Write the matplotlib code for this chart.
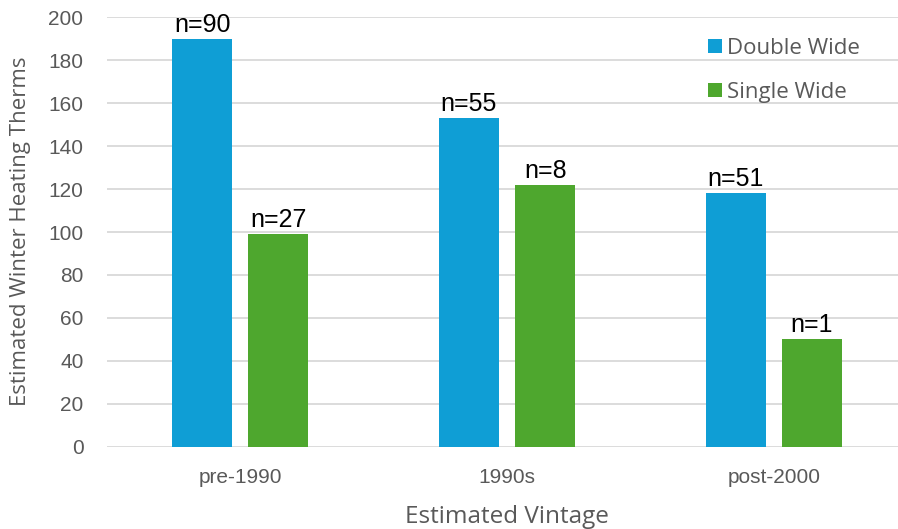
import matplotlib
matplotlib.use("Agg")
import matplotlib.pyplot as plt
import numpy as np

# Data
vintages = ["pre-1990", "1990s", "post-2000"]
double_wide = [190, 153, 118]
single_wide = [99, 122, 50]
double_n = ["n=90", "n=55", "n=51"]
single_n = ["n=27", "n=8", "n=1"]
y_ticks = [0, 20, 40, 60, 80, 100, 120, 140, 160, 180, 200]

blue = "#0F9ED5"
green = "#4EA72E"
grid_gray = "#D9D9D9"
text_gray = "#595959"

W, H = 898, 529
fig = plt.figure(figsize=(W / 100, H / 100), dpi=100)
ax = fig.add_axes([107 / W, 1 - 446.7 / H, (W - 107) / W, (446.7 - 17.3) / H])

x = np.arange(len(vintages))
bw = 0.225
off = 0.143
b1 = ax.bar(x - off, double_wide, bw, color=blue, label="Double Wide", zorder=3)
b2 = ax.bar(x + off, single_wide, bw, color=green, label="Single Wide", zorder=3)

label_font = dict(family=["Liberation Sans", "DejaVu Sans"], size=18, color="black")
for rects, labels in ((b1, double_n), (b2, single_n)):
    for r, t in zip(rects, labels):
        ax.annotate(t, (r.get_x() + r.get_width() / 2, r.get_height()),
                    xytext=(0, 1.5), textcoords="offset points",
                    ha="center", va="bottom", **label_font)

ax.set_xlim(-0.5, -0.5 + (W - 107) / 266.7)
ax.set_ylim(0, 200)
ax.set_yticks(y_ticks)
ax.set_xticks(x)
ax.set_xticklabels(vintages)
ax.yaxis.grid(True, color=grid_gray, linewidth=1.3, zorder=0)
ax.set_axisbelow(True)
for s in ax.spines.values():
    s.set_visible(False)
ax.tick_params(axis="both", length=0, colors=text_gray, labelsize=15)
ax.tick_params(axis="y", pad=17)
ax.tick_params(axis="x", pad=15)
for lab in ax.get_xticklabels() + ax.get_yticklabels():
    lab.set_family(["Liberation Sans", "DejaVu Sans"])

fig.text(507 / W, 1 - 517 / H, "Estimated Vintage", ha="center", va="center",
         family=["Open Sans", "DejaVu Sans"], size=17.5, color=text_gray)
fig.text(21 / W, 1 - 231 / H, "Estimated Winter Heating Therms", ha="center", va="center",
         rotation=90, family=["Open Sans", "DejaVu Sans"], size=16, color=text_gray)

leg = ax.legend(loc="upper left", bbox_to_anchor=(697 / W, 1 - 27 / H),
                bbox_transform=fig.transFigure, frameon=False,
                handlelength=0.62, handleheight=0.62, handletextpad=0.25,
                labelspacing=1.03, borderpad=0,
                prop={"family": ["Open Sans", "DejaVu Sans"], "size": 16})
for t in leg.get_texts():
    t.set_color(text_gray)

fig.savefig("out.png", dpi=100)
